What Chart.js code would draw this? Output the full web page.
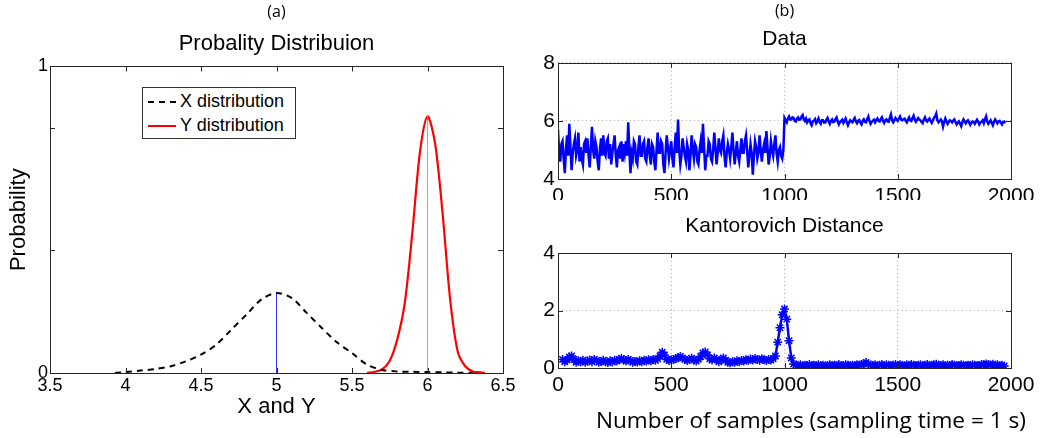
<!DOCTYPE html>
<html>
<head>
<meta charset="utf-8">
<script src="https://cdn.jsdelivr.net/npm/chart.js@4/dist/chart.umd.min.js"></script>
<style>
  body { margin: 0; background: #fff; }
  #wrap { position: relative; width: 1043px; height: 438px; overflow: hidden; }
  canvas { position: absolute; }
  .legend {
    position: absolute; left: 142px; top: 87px; width: 152px; height: 50px;
    border: 1px solid #333; background: #fff;
    font: 18px "Liberation Sans", Arial, sans-serif; color: #000;
  }
  .legend div { position: absolute; left: 5px; height: 22px; line-height: 22px; white-space: nowrap; }
  .legend span { display: inline-block; width: 28px; margin-right: 4px; vertical-align: middle; }
  .xlabel {
    position: absolute; left: 596px; top: 404px;
    font: 22.6px "Open Sans", sans-serif; color: #000; white-space: nowrap;
  }
</style>
</head>
<body>
<div id="wrap">
  <canvas id="dist" width="530" height="438" style="left:0;top:0"></canvas>
  <canvas id="data" width="513" height="200" style="left:530px;top:0"></canvas>
  <canvas id="kant" width="513" height="238" style="left:530px;top:200px"></canvas>
  <div class="legend">
    <div style="top:2px"><span style="border-top:2px dashed #000"></span>X distribution</div>
    <div style="top:26px"><span style="border-top:2px solid #f00"></span>Y distribution</div>
  </div>
  <div class="xlabel">Number of samples (sampling time = 1 s)</div>
</div>
<script>
// (a) probability distributions of X and Y
const xDistX = [3.93, 4.0, 4.1, 4.2, 4.3, 4.4, 4.5, 4.6, 4.7, 4.8, 4.9, 5.0, 5.1, 5.2, 5.3, 5.4, 5.5, 5.6, 5.7, 5.8, 5.9, 6.0, 6.1, 6.2, 6.3]
const xDistP = [0, 0.003, 0.008, 0.013, 0.022, 0.038, 0.06, 0.092, 0.141, 0.19, 0.24, 0.261, 0.245, 0.196, 0.147, 0.1, 0.065, 0.027, 0.01, 0.005, 0.004, 0.003, 0.002, 0.001, 0.001]
const yDistX = [5.6, 5.65, 5.7, 5.75, 5.8, 5.85, 5.9, 5.95, 6.0, 6.05, 6.1, 6.15, 6.2, 6.25, 6.3, 6.35, 6.38]
const yDistP = [0, 0.004, 0.012, 0.04, 0.11, 0.23, 0.46, 0.72, 0.837, 0.75, 0.52, 0.24, 0.07, 0.022, 0.005, 0.002, 0]
const means = [5.0, 6.0]
const meanPeaks = [0.261, 0.837]
const distXTicks = [3.5, 4, 4.5, 5, 5.5, 6, 6.5]
const distYTicks = [0, 0.4, 0.8, 1]
const distYLabels = ['0', '', '', '1']

// (b) raw data, one value every 5 samples
const dataStep = 5
const dataValues = [
  5.70, 4.90, 4.60, 5.20, 5.30, 4.70, 4.20, 5.00, 5.50, 4.80, 5.90, 5.10, 4.30, 4.90, 5.20, 5.40, 4.80, 5.00, 5.60, 4.60,
  5.10, 4.70, 4.50, 5.20, 5.30, 4.90, 5.40, 4.80, 4.40, 5.10, 5.80, 5.00, 4.70, 5.30, 5.10, 4.60, 4.30, 5.00, 5.40, 4.80,
  5.50, 4.90, 4.80, 5.30, 5.40, 4.70, 5.20, 4.50, 4.90, 5.20, 5.50, 4.80, 4.40, 5.00, 5.10, 4.70, 5.30, 4.60, 5.20, 4.90,
  5.30, 4.80, 5.95, 5.00, 4.20, 4.90, 4.70, 5.30, 5.20, 4.60, 4.50, 5.10, 5.50, 4.80, 4.80, 5.20, 5.30, 4.70, 4.60, 5.10,
  5.40, 4.80, 4.50, 5.20, 5.10, 4.60, 4.30, 5.00, 5.60, 4.90, 4.90, 5.30, 5.20, 4.50, 4.20, 4.90, 5.50, 5.10, 4.70, 5.00,
  5.30, 4.70, 4.40, 5.10, 5.60, 4.90, 6.05, 5.00, 4.50, 4.80, 5.40, 5.10, 4.80, 4.60, 5.20, 5.00, 4.30, 4.80, 5.50, 5.00,
  4.70, 5.20, 5.10, 4.60, 4.50, 5.00, 5.30, 4.90, 5.90, 5.10, 4.30, 4.80, 4.80, 5.30, 5.20, 4.70, 4.60, 5.00, 5.60, 5.10,
  4.50, 4.90, 5.40, 5.00, 4.90, 5.30, 5.50, 4.80, 4.40, 4.90, 5.20, 5.00, 4.70, 5.10, 5.60, 5.00, 4.50, 4.90, 5.30, 4.80,
  4.60, 5.00, 5.40, 4.90, 4.90, 5.30, 5.50, 5.00, 4.40, 4.80, 5.20, 4.90, 4.15, 4.80, 5.30, 5.10, 4.70, 4.90, 5.50, 5.00,
  4.60, 5.00, 5.20, 4.90, 5.65, 5.10, 4.50, 4.80, 5.30, 5.00, 4.80, 5.20, 5.50, 4.90, 4.60, 5.00, 5.10, 4.80, 4.70, 5.00,
  6.10, 6.02, 5.95, 6.08, 6.15, 6.05, 6.05, 6.12, 6.10, 6.00, 5.98, 6.08, 6.12, 6.04, 6.05, 6.15, 6.20, 6.06, 6.00, 6.08,
  5.95, 6.02, 6.05, 5.92, 5.85, 5.98, 6.00, 6.06, 5.92, 5.98, 6.08, 5.96, 5.90, 6.02, 6.02, 5.94, 5.95, 6.04, 6.10, 5.98,
  5.90, 6.00, 6.05, 5.96, 5.97, 6.06, 6.12, 5.98, 5.88, 5.96, 6.00, 6.04, 5.93, 6.00, 6.08, 5.96, 5.85, 5.95, 6.02, 5.98,
  5.95, 6.04, 6.10, 5.98, 5.92, 6.00, 6.03, 5.94, 5.88, 6.00, 6.05, 5.97, 5.95, 6.06, 6.15, 6.00, 5.90, 5.97, 6.00, 6.04,
  5.95, 6.02, 6.08, 6.00, 5.98, 6.06, 6.12, 6.00, 5.93, 6.02, 6.05, 5.98, 5.97, 6.10, 6.22, 6.03, 5.95, 6.02, 6.10, 6.04,
  6.00, 6.08, 6.15, 6.04, 6.02, 6.06, 6.08, 6.00, 5.95, 6.04, 6.12, 6.02, 6.00, 6.10, 6.18, 6.04, 5.97, 6.03, 6.10, 6.05,
  6.02, 5.96, 5.92, 6.04, 6.12, 6.02, 5.98, 6.04, 6.08, 5.99, 5.93, 6.02, 6.10, 6.15, 6.25, 6.02, 5.95, 6.00, 6.05, 5.98,
  5.80, 5.96, 6.08, 5.98, 5.90, 5.97, 6.02, 6.00, 5.95, 6.01, 6.05, 5.96, 5.88, 5.94, 5.98, 5.90, 5.82, 5.96, 6.05, 5.99,
  5.92, 5.98, 6.02, 5.95, 5.87, 5.94, 5.98, 5.96, 5.90, 5.97, 6.04, 5.98, 5.88, 5.95, 5.97, 6.02, 5.92, 6.05, 6.15, 5.98,
  5.90, 5.96, 6.02, 5.94, 5.85, 5.97, 6.05, 5.99, 5.92, 5.98, 6.00, 5.94, 5.88, 5.96, 5.98, 5.93
]

// Kantorovich distance, from sample 20 every 10 samples
const kantStart = 20
const kantStep = 10
const kantValues = [
  0.30, 0.22, 0.28, 0.38, 0.42, 0.30, 0.20, 0.25,
  0.22, 0.27, 0.20, 0.24, 0.28, 0.22, 0.30, 0.26, 0.20, 0.23,
  0.27, 0.22, 0.19, 0.25, 0.21, 0.27, 0.24, 0.30, 0.33, 0.28,
  0.24, 0.30, 0.26, 0.20, 0.23, 0.21, 0.25, 0.22, 0.27, 0.24,
  0.29, 0.25, 0.30, 0.27, 0.32, 0.42, 0.55, 0.45, 0.30, 0.26,
  0.28, 0.30, 0.33, 0.36, 0.40, 0.35, 0.30, 0.26, 0.30, 0.34,
  0.28, 0.24, 0.30, 0.40, 0.52, 0.56, 0.45, 0.32, 0.28, 0.35,
  0.30, 0.22, 0.28, 0.35, 0.27, 0.20, 0.18, 0.22, 0.20, 0.25,
  0.22, 0.26, 0.24, 0.29, 0.27, 0.31, 0.28, 0.33, 0.30, 0.27,
  0.32, 0.29, 0.26, 0.30, 0.28, 0.32, 0.42, 0.90, 1.40, 1.85,
  2.05, 1.70, 0.95, 0.35, 0.14, 0.10, 0.09, 0.11, 0.08, 0.10,
  0.09, 0.12, 0.08, 0.10, 0.09, 0.11, 0.08, 0.10, 0.07, 0.09,
  0.11, 0.08, 0.10, 0.09, 0.12, 0.08, 0.09, 0.11, 0.10, 0.08,
  0.10, 0.09, 0.11, 0.10, 0.12, 0.15, 0.19, 0.14, 0.10, 0.09,
  0.11, 0.08, 0.10, 0.12, 0.09, 0.11, 0.10, 0.08, 0.10, 0.12,
  0.09, 0.11, 0.10, 0.08, 0.11, 0.09, 0.12, 0.10, 0.08, 0.10,
  0.11, 0.09, 0.10, 0.12, 0.08, 0.10, 0.11, 0.13, 0.10, 0.09,
  0.11, 0.08, 0.10, 0.09, 0.12, 0.10, 0.08, 0.09, 0.11, 0.10,
  0.08, 0.10, 0.09, 0.11, 0.10, 0.08, 0.09, 0.12, 0.11, 0.14,
  0.12, 0.10, 0.13, 0.09, 0.11, 0.08, 0.10, 0.07
]
const sampleTicks = [0, 500, 1000, 1500, 2000]
const dataTicks = [4, 6, 8]
const kantTicks = [0, 2, 4]

const helv = '"Liberation Sans", Arial, sans-serif'
const calibri = '"Open Sans", sans-serif'

Chart.defaults.font.family = helv
Chart.defaults.color = '#000'
Chart.defaults.animation = false

// box round the plot area with short inward tick marks (matlab style)
const frame = {
  id: 'frame',
  afterDatasetsDraw(chart) {
    const { ctx, chartArea: a, scales } = chart
    ctx.save()
    ctx.strokeStyle = '#262626'
    ctx.lineWidth = 1
    ctx.strokeRect(Math.round(a.left) + 0.5, Math.round(a.top) + 0.5, Math.round(a.right - a.left), Math.round(a.bottom - a.top))
    ctx.beginPath()
    scales.x.ticks.forEach(t => {
      const px = Math.round(scales.x.getPixelForValue(t.value)) + 0.5
      ctx.moveTo(px, a.bottom); ctx.lineTo(px, a.bottom - 5)
      ctx.moveTo(px, a.top); ctx.lineTo(px, a.top + 5)
    })
    scales.y.ticks.forEach(t => {
      const py = Math.round(scales.y.getPixelForValue(t.value)) + 0.5
      ctx.moveTo(a.left, py); ctx.lineTo(a.left + 5, py)
      ctx.moveTo(a.right, py); ctx.lineTo(a.right - 5, py)
    })
    ctx.stroke()
    ctx.restore()
  }
}

const setTicks = list => scale => { scale.ticks = list.map(v => ({ value: v })) }
const fixW = w => scale => { scale.width = w }
const fixH = h => scale => { scale.height = h }

new Chart(document.getElementById('dist'), {
  type: 'line',
  data: {
    datasets: [
      {
        label: 'X distribution',
        data: xDistX.map((x, i) => ({ x: x, y: xDistP[i] })),
        borderColor: '#000', borderWidth: 2, borderDash: [6, 5],
        pointRadius: 0, tension: 0.3
      },
      {
        label: 'mean Y',
        data: [{ x: means[1], y: 0 }, { x: means[1], y: meanPeaks[1] }],
        borderColor: '#a0a0ff', borderWidth: 1, pointRadius: 0
      },
      {
        label: 'Y distribution',
        data: yDistX.map((x, i) => ({ x: x, y: yDistP[i] })),
        borderColor: '#ff0000', borderWidth: 2.2,
        pointRadius: 0, tension: 0.3
      },
      {
        label: 'mean X',
        data: [{ x: means[0], y: 0 }, { x: means[0], y: meanPeaks[0] }],
        borderColor: '#3a3aff', borderWidth: 1, pointRadius: 0
      }
    ]
  },
  options: {
    responsive: false,
    layout: { padding: { left: 0, right: 27, top: 0, bottom: 0 } },
    plugins: {
      legend: { display: false },
      tooltip: { enabled: false },
      title: { display: true, text: '(a)', fullSize: false, font: { family: calibri, size: 16, weight: 'normal' }, padding: { top: 3, bottom: 4 } },
      subtitle: { display: true, text: 'Probality Distribuion', fullSize: false, color: '#000', font: { size: 22 }, padding: { top: 5, bottom: 8.8 } }
    },
    scales: {
      x: {
        type: 'linear', min: 3.5, max: 6.5,
        afterBuildTicks: setTicks(distXTicks),
        afterFit: fixH(65),
        grid: { display: false, drawTicks: false },
        border: { display: false },
        ticks: { font: { size: 18 }, padding: 2, maxRotation: 0, callback: v => String(v) },
        title: { display: true, text: 'X and Y', font: { size: 22 }, padding: { top: 0, bottom: 18 } }
      },
      y: {
        min: 0, max: 1,
        afterBuildTicks: setTicks(distYTicks),
        afterFit: fixW(50),
        grid: { display: false, drawTicks: false },
        border: { display: false },
        ticks: { font: { size: 18 }, padding: 2, callback: (v, i) => distYLabels[i] },
        title: { display: true, text: 'Probability', font: { size: 22 }, padding: { top: 6, bottom: 0 } }
      }
    }
  },
  plugins: [frame]
})

function sampleScales(yMin, yMax, yTicks, xHeight) {
  return {
    x: {
      type: 'linear', min: 0, max: 2000,
      afterBuildTicks: setTicks(sampleTicks),
      afterFit: fixH(xHeight),
      grid: { color: '#b0b0b0', drawTicks: false },
      border: { display: false, dash: [1, 3] },
      ticks: { font: { size: 21 }, padding: 5, maxRotation: 0, callback: v => String(v) }
    },
    y: {
      min: yMin, max: yMax,
      afterBuildTicks: setTicks(yTicks),
      afterFit: fixW(28),
      grid: { color: '#b0b0b0', drawTicks: false },
      border: { display: false, dash: [1, 3] },
      ticks: { font: { size: 21 }, padding: 3, callback: v => String(v) }
    }
  }
}

new Chart(document.getElementById('data'), {
  type: 'line',
  data: {
    datasets: [{
      label: 'Data',
      data: dataValues.map((v, i) => ({ x: i * dataStep, y: v })),
      borderColor: '#0000ff', borderWidth: 2.5, pointRadius: 0
    }]
  },
  options: {
    responsive: false,
    layout: { padding: { left: 0, right: 32, top: 0, bottom: 0 } },
    plugins: {
      legend: { display: false },
      tooltip: { enabled: false },
      title: { display: true, text: '(b)', fullSize: false, font: { family: calibri, size: 16, weight: 'normal' }, padding: { top: 2, bottom: 4 } },
      subtitle: { display: true, text: 'Data', fullSize: false, color: '#000', font: { size: 21 }, padding: { top: 1, bottom: 11.4 } }
    },
    scales: sampleScales(4, 8, dataTicks, 21)
  },
  plugins: [frame]
})

new Chart(document.getElementById('kant'), {
  type: 'line',
  data: {
    datasets: [{
      label: 'Kantorovich Distance',
      data: kantValues.map((v, i) => ({ x: kantStart + i * kantStep, y: v })),
      borderColor: '#0000ff', borderWidth: 2.5,
      pointStyle: 'star', pointRadius: 4.5, pointBorderWidth: 1.5,
      pointBorderColor: '#0000ff', pointBackgroundColor: '#0000ff'
    }]
  },
  options: {
    responsive: false,
    layout: { padding: { left: 0, right: 32, top: 0, bottom: 0 } },
    plugins: {
      legend: { display: false },
      tooltip: { enabled: false },
      title: { display: true, text: 'Kantorovich Distance', fullSize: false, color: '#000', font: { size: 21, weight: 'normal' }, padding: { top: 13.4, bottom: 14.4 } }
    },
    scales: sampleScales(0, 4, kantTicks, 70)
  },
  plugins: [frame]
})
</script>
</body>
</html>
